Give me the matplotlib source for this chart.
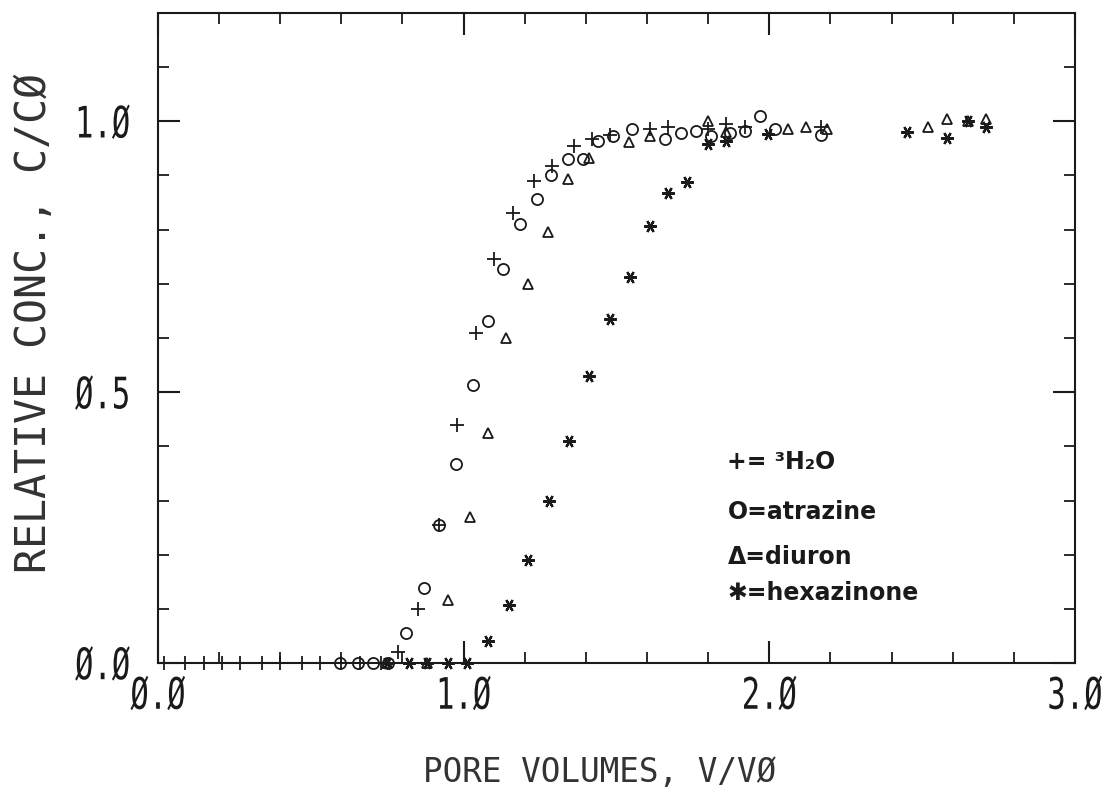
import matplotlib
matplotlib.use("Agg")
import matplotlib.pyplot as plt
from matplotlib.ticker import MultipleLocator
from matplotlib.patheffects import AbstractPathEffect
from matplotlib.transforms import Affine2D

# ---- data ----
h2o_x = [0.02, 0.09, 0.15, 0.21, 0.27, 0.34, 0.40, 0.47, 0.53, 0.60, 0.66, 0.73,
         0.785, 0.85, 0.92, 0.98, 1.04, 1.10, 1.16, 1.23, 1.29, 1.36, 1.42, 1.48,
         1.61, 1.67, 1.80, 1.86, 1.92, 2.17]
h2o_y = [0, 0, 0, 0, 0, 0, 0, 0, 0, 0, 0, 0,
         0.02, 0.10, 0.255, 0.44, 0.61, 0.745, 0.83, 0.89, 0.917, 0.954, 0.967, 0.975,
         0.985, 0.99, 0.985, 0.995, 0.99, 0.99]

atr_x = [0.595, 0.654, 0.703, 0.752, 0.81, 0.87, 0.92, 0.975, 1.03, 1.08, 1.13, 1.185,
         1.24, 1.285, 1.34, 1.39, 1.44, 1.49, 1.55, 1.66, 1.71, 1.76, 1.81, 1.87, 1.92,
         1.97, 2.02, 2.17]
atr_y = [0, 0, 0, 0, 0.055, 0.138, 0.255, 0.368, 0.514, 0.632, 0.727, 0.81,
         0.856, 0.90, 0.93, 0.93, 0.963, 0.972, 0.985, 0.968, 0.978, 0.982, 0.972, 0.978,
         0.982, 1.009, 0.985, 0.975]

diu_x = [0.75, 0.88, 0.95, 1.02, 1.08, 1.14, 1.21, 1.275, 1.34, 1.41, 1.54, 1.61,
         1.80, 1.86, 2.06, 2.12, 2.19, 2.52, 2.58, 2.65, 2.71]
diu_y = [0, 0, 0.116, 0.27, 0.425, 0.60, 0.70, 0.795, 0.893, 0.932, 0.961, 0.972,
         1.0, 0.98, 0.985, 0.99, 0.985, 0.99, 1.005, 1.0, 1.005]

hex_x = [0.75, 0.82, 0.88, 0.95, 1.01, 1.08, 1.15, 1.21, 1.28, 1.345, 1.41, 1.48,
         1.545, 1.61, 1.67, 1.73, 1.80, 1.86, 1.995, 2.45, 2.58, 2.65, 2.71]
hex_y = [0, 0, 0, 0, 0, 0.04, 0.108, 0.19, 0.30, 0.41, 0.53, 0.635,
         0.713, 0.807, 0.867, 0.888, 0.958, 0.963, 0.976, 0.98, 0.97, 1.0, 0.99]

x_ticks = [0.0, 1.0, 2.0, 3.0]
x_tick_labels = ["Ø.Ø", "1.Ø", "2.Ø", "3.Ø"]
y_ticks = [0.0, 0.5, 1.0]
y_tick_labels = ["Ø.Ø", "Ø.5", "1.Ø"]
legend_lines = ["+= ³H₂O", "O=atrazine", "Δ=diuron", "✱=hexazinone"]

INK = "#1a1a1a"
TXT = "#333333"
mono = "DejaVu Sans Mono"


class Tall(AbstractPathEffect):
    """Stretch glyphs vertically (tall plotter-style lettering)."""
    def __init__(self, sy):
        super().__init__()
        self.sy = sy

    def draw_path(self, renderer, gc, tpath, affine, rgbFace=None):
        ext = tpath.get_extents()
        cy = 0.5 * (ext.y0 + ext.y1)
        t = Affine2D().translate(0, -cy).scale(1, self.sy).translate(0, cy) + affine
        renderer.draw_path(gc, tpath, t, rgbFace)


fig = plt.figure(figsize=(11.10, 7.97), dpi=100)
ax = fig.add_axes([0.1423, 0.1681, 0.8261, 0.8156])

kw = dict(ls="none", clip_on=False, zorder=3)
ax.plot(h2o_x, h2o_y, marker="+", ms=10, mew=1.3, color=INK, **kw)
ax.plot(atr_x, atr_y, marker="o", ms=8, mew=1.3, mfc="none", mec=INK, **kw)
ax.plot(diu_x, diu_y, marker="^", ms=7, mew=1.3, mfc="none", mec=INK, **kw)
ax.plot(hex_x, hex_y, marker=(6, 2, 90), ms=9, mew=1.6, color=INK, **kw)

ax.set_xlim(0, 3.0)
ax.set_ylim(0, 1.2)
ax.xaxis.set_minor_locator(MultipleLocator(0.2))
ax.yaxis.set_minor_locator(MultipleLocator(0.1))
ax.set_xticks(x_ticks)
xl = ax.set_xticklabels(x_tick_labels, fontfamily=mono, fontsize=22, color=TXT)
ax.set_yticks(y_ticks)
yl = ax.set_yticklabels(y_tick_labels, fontfamily=mono, fontsize=22, color=TXT)
for t in list(xl) + list(yl):
    t.set_path_effects([Tall(1.42)])
ax.tick_params(which="both", direction="in", top=True, right=True, colors=INK)
ax.tick_params(which="major", length=16, width=1.5)
ax.tick_params(axis="x", which="major", pad=13)
ax.tick_params(axis="y", which="major", pad=20)
ax.tick_params(which="minor", length=8, width=1.3)
for s in ax.spines.values():
    s.set_linewidth(1.5)
    s.set_color(INK)

ax.set_xlabel("PORE VOLUMES, V/VØ", fontfamily=mono, fontsize=23.5, color=TXT)
ax.xaxis.set_label_coords(0.482, -0.143)
ax.set_ylabel("RELATIVE CONC., C/CØ", fontfamily=mono, fontsize=30, color=TXT)
ax.yaxis.set_label_coords(-0.112, 0.523)

ly = [0.309, 0.232, 0.163, 0.108]
for t, yy in zip(legend_lines, ly):
    ax.text(0.621, yy, t, transform=ax.transAxes, fontsize=17, fontweight="bold",
            color=INK, va="center", ha="left", family=["DejaVu Sans"])

fig.savefig("out.png", dpi=100, facecolor="white")
